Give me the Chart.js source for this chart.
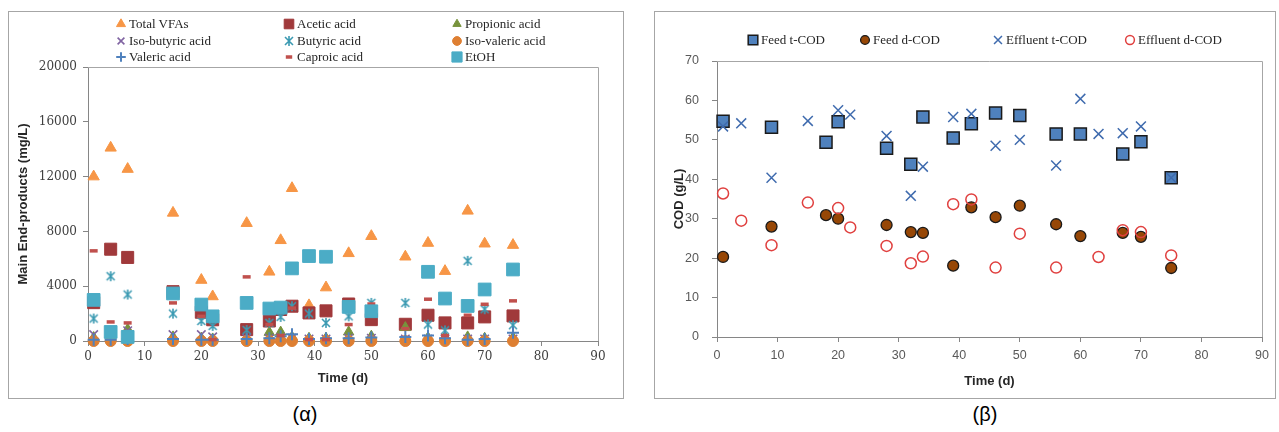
<!DOCTYPE html>
<html>
<head>
<meta charset="utf-8">
<script src="https://cdn.jsdelivr.net/npm/chart.js@4.4.1/dist/chart.umd.min.js"></script>
<style>
    body { margin: 0; background: #fff; width: 1279px; height: 432px; position: relative; overflow: hidden; font-family: "Liberation Sans", Arial, sans-serif; }
    .panel { position: absolute; box-sizing: border-box; border: 1px solid #a6a6a6; top: 11px; height: 388px; }
    .panel > canvas { position: absolute; left: 0; top: 0; }
    .legend { position: absolute; left: 0; top: 0; font-family: "Liberation Serif", serif; font-size: 13px; color: #262626; }
    .item { position: absolute; display: flex; align-items: center; white-space: nowrap; height: 16px; }
    .item canvas { margin-right: 1px; }
    .caption { position: absolute; top: 403px; font-size: 20px; color: #000; transform: translateX(-50%); }
</style>
</head>
<body>
<div class="panel" style="left:8px;width:616px;">
    <canvas id="chartA" width="614" height="386"></canvas>
    <div class="legend" id="legendA"></div>
</div>
<div class="panel" style="left:654px;width:622px;">
    <canvas id="chartB" width="620" height="386"></canvas>
    <div class="legend" id="legendB"></div>
</div>
<div class="caption" style="left:305px;">(α)</div>
<div class="caption" style="left:985px;">(β)</div>

<script>
// --- (α) main end-products, mg/L ---
const daysA = [1, 4, 7, 15, 20, 22, 28, 32, 34, 36, 39, 42, 46, 50, 56, 60, 63, 67, 70, 75];
const totalVFAs = [12000, 14100, 12550, 9350, 4450, 3250, 8600, 5050, 7350, 11150, 2600, 3900, 6400, 7650, 6150, 7150, 5100, 9500, 7100, 7000];
const aceticAcid = [2800, 6700, 6100, 3600, 2100, 1550, 830, 1460, 2300, 2540, 2050, 2200, 2700, 1560, 1220, 1880, 1320, 1320, 1760, 1830];
const propionicAcid = [250, 200, 850, 300, 200, 150, 100, 630, 650, 300, 200, 200, 660, 350, 980, 250, 300, 300, 200, 250];
const isoButyricAcid = [470, 400, 750, 470, 470, 300, 200, 200, 250, 200, 150, 150, 200, 200, 150, 150, 150, 150, 150, 150];
const butyricAcid = [1640, 4730, 3390, 2000, 1460, 1100, 800, 1320, 1760, 2540, 2000, 1320, 1800, 2780, 2780, 1200, 780, 5850, 2320, 1150];
const isoValericAcid = [0, 0, 0, 0, 0, 0, 0, 0, 0, 0, 0, 0, 0, 0, 0, 0, 0, 0, 0, 0];
const valericAcid = [100, 100, 150, 150, 100, 100, 150, 200, 350, 500, 150, 200, 200, 250, 300, 400, 200, 100, 150, 600];
const caproicAcid = [6580, 1390, 1320, 2780, 1800, 100, 4680, 1200, 400, 2400, 100, 100, 1200, 2700, 900, 3050, 400, 1880, 2680, 2930];
const etoh = [3000, 660, 300, 3470, 2660, 1800, 2780, 2370, 2440, 5300, 6200, 6150, 2490, 2170, null, 5050, 3100, 2560, 3760, 5220];

// --- (β) COD, g/L ---
const daysFeed = [1, 9, 18, 20, 28, 32, 34, 39, 42, 46, 50, 56, 60, 67, 70, 75];
const feedTCOD = [54.7, 53.2, 49.4, 54.6, 47.9, 43.8, 55.8, 50.5, 54.1, 56.8, 56.2, 51.5, 51.5, 46.4, 49.5, 40.4];
const feedDCOD = [20.3, 28.0, 30.9, 30.0, 28.4, 26.6, 26.4, 18.1, 32.9, 30.4, 33.3, 28.6, 25.6, 26.4, 25.4, 17.5];
const daysEff = [1, 4, 9, 15, 20, 22, 28, 32, 34, 39, 42, 46, 50, 56, 60, 63, 67, 70, 75];
const effTCOD = [53.4, 54.2, 40.4, 54.8, 57.5, 56.4, 51.0, 35.8, 43.2, 55.8, 56.6, 48.5, 50.0, 43.5, 60.4, 51.5, 51.7, 53.4, 40.4];
const effDCOD = [36.4, 29.5, 23.3, 34.1, 32.7, 27.8, 23.1, 18.7, 20.4, 33.7, 34.9, 17.6, 26.2, 17.6, null, 20.3, 27.1, 26.6, 20.7];

// excel style "star" marker: X with a vertical bar
function starMarker(color) {
    const c = document.createElement('canvas');
    c.width = 12; c.height = 12;
    const g = c.getContext('2d');
    g.strokeStyle = color;
    g.lineWidth = 1.6;
    g.beginPath();
    g.moveTo(2, 2); g.lineTo(10, 10);
    g.moveTo(10, 2); g.lineTo(2, 10);
    g.moveTo(6, 1); g.lineTo(6, 11);
    g.stroke();
    return c;
}

function series(label, xs, ys, style) {
    const data = [];
    xs.forEach((x, i) => { if (ys[i] !== null) data.push({ x: x, y: ys[i] }); });
    return Object.assign({ label: label, data: data, clip: false, showLine: false }, style);
}

function mk(style, radius, fill, stroke, bw) {
    return { pointStyle: style, pointRadius: radius, pointHoverRadius: radius, pointBackgroundColor: fill, pointBorderColor: stroke, pointBorderWidth: bw };
}

// plot area border (top + right), excel style
const plotFrame = {
    id: 'plotFrame',
    beforeDatasetsDraw(chart) {
        const { ctx, chartArea: a } = chart;
        ctx.save();
        ctx.strokeStyle = '#a6a6a6';
        ctx.lineWidth = 1;
        ctx.beginPath();
        ctx.moveTo(a.left, Math.round(a.top) + 0.5);
        ctx.lineTo(Math.round(a.right) + 0.5, Math.round(a.top) + 0.5);
        ctx.lineTo(Math.round(a.right) + 0.5, a.bottom);
        ctx.stroke();
        ctx.restore();
    }
};

function axes(cfg) {
    const tickFont = cfg.tickFont;
    const plain = v => String(v);
    return {
        x: {
            type: 'linear', min: 0, max: 90,
            ticks: { stepSize: 10, color: cfg.tickColor, font: tickFont, padding: cfg.xPad, callback: plain },
            grid: { drawOnChartArea: false, tickLength: 5, color: '#868686' },
            border: { color: '#868686' },
            title: { display: true, text: 'Time (d)', color: '#262626', font: { family: 'Liberation Sans', size: 13, weight: 'bold' }, padding: { top: 0, bottom: cfg.xTitlePad } },
            afterFit(s) { s.height = cfg.xHeight; }
        },
        y: {
            min: 0, max: cfg.yMax,
            ticks: { stepSize: cfg.yStep, color: cfg.tickColor, font: tickFont, padding: cfg.yPad, callback: plain },
            grid: { drawOnChartArea: false, tickLength: 5, color: '#868686' },
            border: { color: '#868686' },
            title: { display: true, text: cfg.yTitle, color: '#262626', font: { family: 'Liberation Sans', size: 13, weight: 'bold' }, padding: { top: cfg.yTitlePad, bottom: 0 } },
            afterFit(s) { s.width = cfg.yWidth; }
        }
    };
}

function buildChart(id, datasets, padding, scales) {
    // later series drawn on top, like the spreadsheet
    datasets.forEach((d, i) => { d.order = datasets.length - i; });
    return new Chart(document.getElementById(id), {
        type: 'scatter',
        data: { datasets: datasets },
        options: {
            responsive: false,
            animation: false,
            layout: { padding: padding },
            plugins: { legend: { display: false }, tooltip: { enabled: false } },
            scales: scales
        },
        plugins: [plotFrame]
    });
}

function buildLegend(el, chart, cols, rows, perRow) {
    chart.data.datasets.forEach((d, i) => {
        const item = document.createElement('div');
        item.className = 'item';
        item.style.left = cols[i % perRow] + 'px';
        item.style.top = rows[Math.floor(i / perRow)] + 'px';
        const c = document.createElement('canvas');
        c.width = 14; c.height = 16;
        const g = c.getContext('2d');
        g.fillStyle = d.pointBackgroundColor;
        g.strokeStyle = d.pointBorderColor;
        g.lineWidth = d.pointBorderWidth;
        Chart.helpers.drawPoint(g, { pointStyle: d.pointStyle, radius: d.pointRadius * 0.8, borderWidth: d.pointBorderWidth, rotation: 0 }, 7, 8);
        item.appendChild(c);
        const t = document.createElement('span');
        t.textContent = d.label;
        item.appendChild(t);
        el.appendChild(item);
    });
}

const chartA = buildChart('chartA', [
    series('Total VFAs', daysA, totalVFAs, mk('triangle', 6.5, '#F79646', '#F79646', 1)),
    series('Acetic acid', daysA, aceticAcid, mk('rect', 8.5, '#A0393B', '#A0393B', 1)),
    series('Propionic acid', daysA, propionicAcid, mk('triangle', 6, '#77933C', '#77933C', 1)),
    series('Iso-butyric acid', daysA, isoButyricAcid, mk('crossRot', 6, '#8064A2', '#8064A2', 1.6)),
    series('Butyric acid', daysA, butyricAcid, mk(starMarker('#3B9AB2'), 6, '#3B9AB2', '#3B9AB2', 1.6)),
    series('Iso-valeric acid', daysA, isoValericAcid, mk('circle', 5.5, '#DE7F32', '#DE7F32', 1)),
    series('Valeric acid', daysA, valericAcid, mk('cross', 6, '#4F81BD', '#4F81BD', 2)),
    series('Caproic acid', daysA, caproicAcid, mk('line', 4, '#C0504D', '#C0504D', 3.5)),
    series('EtOH', daysA, etoh, mk('rect', 9, '#4BACC6', '#4BACC6', 1))
], { top: 55, right: 25, left: 0, bottom: 0 }, axes({
    tickFont: { family: 'DejaVu Serif', size: 12 }, tickColor: '#404040',
    xPad: 4, yPad: 6, xHeight: 57, yWidth: 79, xTitlePad: 12, yTitlePad: 7,
    yMax: 20000, yStep: 4000, yTitle: 'Main End-products (mg/L)'
}));

const chartB = buildChart('chartB', [
    series('Feed t-COD', daysFeed, feedTCOD, mk('rect', 8.5, '#4F81BD', '#1a1a1a', 1.5)),
    series('Feed d-COD', daysFeed, feedDCOD, mk('circle', 5.5, '#974706', '#1a1a1a', 1.3)),
    series('Effluent t-COD', daysEff, effTCOD, mk('crossRot', 7, '#3F6BAE', '#3F6BAE', 1.5)),
    series('Effluent d-COD', daysEff, effDCOD, mk('circle', 5.5, 'rgba(255,255,255,0)', '#E0403F', 1.5))
], { top: 49, right: 12, left: 0, bottom: 0 }, axes({
    tickFont: { family: 'Liberation Sans', size: 12.5 }, tickColor: '#595959',
    xPad: 6, yPad: 13, xHeight: 61, yWidth: 62, xTitlePad: 9, yTitlePad: 17,
    yMax: 70, yStep: 10, yTitle: 'COD (g/L)'
}));

buildLegend(document.getElementById('legendA'), chartA, [105, 273, 441], [4, 21, 37], 3);
buildLegend(document.getElementById('legendB'), chartB, [91, 203, 336, 468], [20], 4);
</script>
</body>
</html>
